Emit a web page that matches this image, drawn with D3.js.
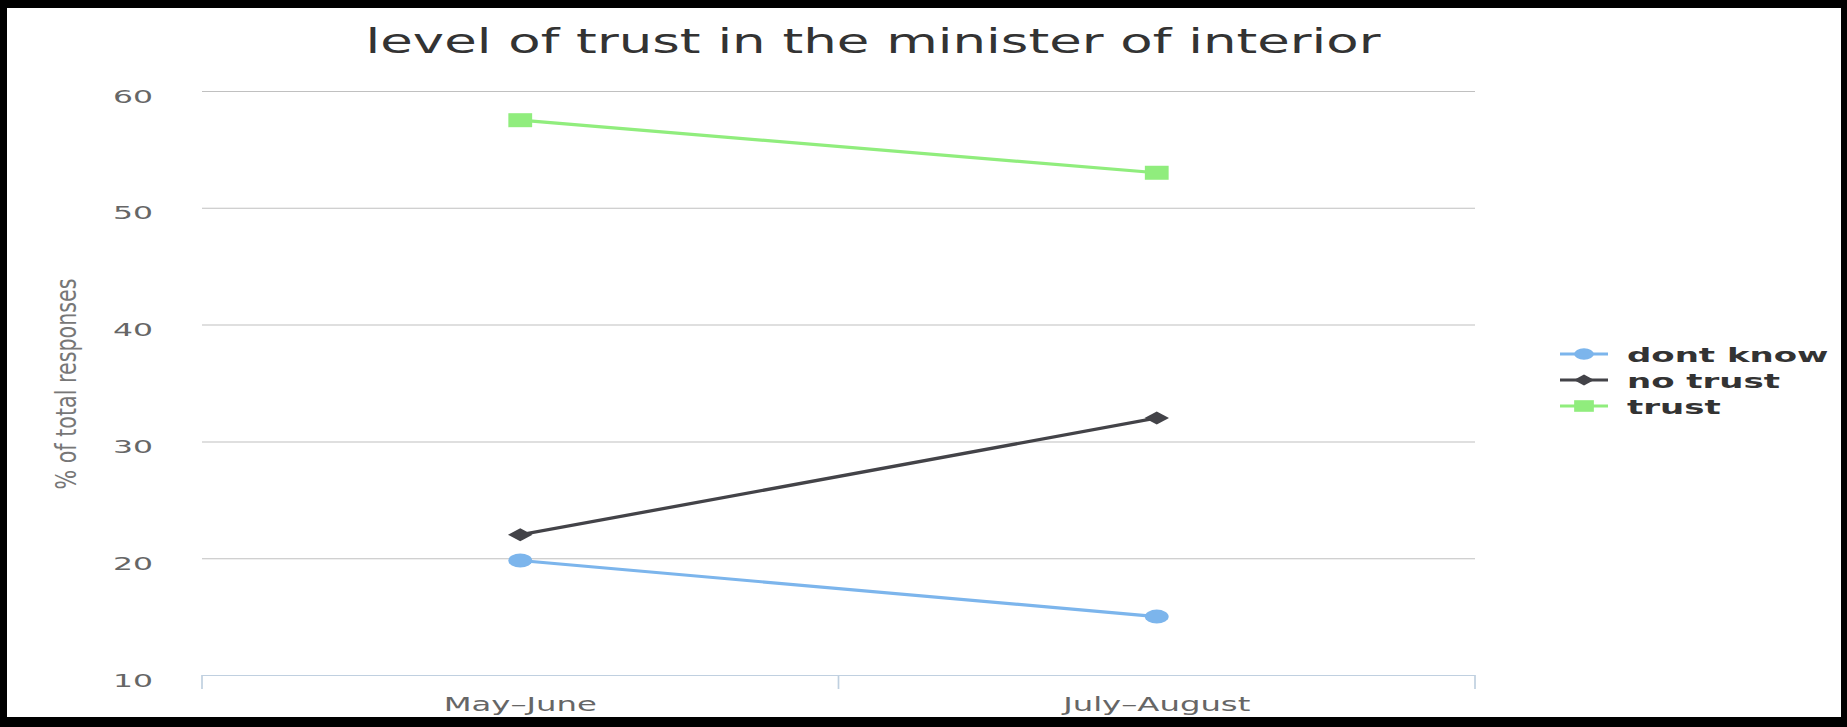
<!DOCTYPE html>
<html>
<head>
<meta charset="utf-8">
<script src="https://cdn.jsdelivr.net/npm/d3@7"></script>
<style>
  html, body { margin: 0; padding: 0; background: #000; }
  svg { display: block; }
</style>
</head>
<body>
<script>
// Survey periods and series values (% of total responses)
const categories = ["May–June", "July–August"];
const dontKnow = [19.8, 15];
const noTrust = [22, 32];
const trust = [57.5, 53];
const yTickValues = [10, 20, 30, 40, 50, 60];
const seriesNames = ["dont know", "no trust", "trust"];

const series = [
  { name: seriesNames[0], values: dontKnow, color: "#7cb5ec", symbol: "circle" },
  { name: seriesNames[1], values: noTrust, color: "#434348", symbol: "diamond" },
  { name: seriesNames[2], values: trust, color: "#90ed7d", symbol: "square" }
];

// The chart is laid out in a narrower coordinate space and stretched horizontally.
const W = 1847, H = 727, SX = 1.7;
const IW = W / SX;
const font = "'DejaVu Sans', Verdana, sans-serif";

const svg = d3.select("body").append("svg")
  .attr("width", W).attr("height", H)
  .attr("viewBox", `0 0 ${IW} ${H}`)
  .attr("preserveAspectRatio", "none");

// frame
svg.append("rect").attr("x", 0).attr("y", 0).attr("width", IW).attr("height", H).attr("fill", "#000");
svg.append("rect").attr("x", 7 / SX).attr("y", 8).attr("width", (1841 - 7) / SX).attr("height", 709)
  .attr("fill", "#fff");

const plotLeft = 202 / SX, plotRight = 1475 / SX;
const x = d3.scaleBand().domain(categories).range([plotLeft, plotRight]).padding(0);
const y = d3.scaleLinear().domain([10, 60]).range([675, 91]);
const cx = c => x(c) + x.bandwidth() / 2;

// title
svg.append("text")
  .attr("x", 873 / SX).attr("y", 53)
  .attr("text-anchor", "middle")
  .attr("font-family", font).attr("font-size", 33)
  .attr("fill", "#333")
  .attr("textLength", 1015 / SX).attr("lengthAdjust", "spacingAndGlyphs")
  .text("level of trust in the minister of interior");

// horizontal grid lines
svg.append("g").selectAll("line")
  .data(yTickValues.filter(v => v > 10))
  .join("line")
  .attr("x1", plotLeft).attr("x2", plotRight)
  .attr("y1", d => y(d) + 0.5).attr("y2", d => y(d) + 0.5)
  .attr("stroke", "#c0c0c0").attr("stroke-width", 1);

// y axis labels
const yAxis = svg.append("g")
  .attr("transform", `translate(${plotLeft},0)`)
  .call(d3.axisLeft(y).tickValues(yTickValues).tickSize(0).tickPadding(plotLeft - 153 / SX));
yAxis.select(".domain").remove();
yAxis.selectAll("text")
  .attr("font-family", font).attr("font-size", 18.5)
  .attr("fill", "#666").attr("dy", "0.6em");

// y axis title
svg.append("text")
  .attr("transform", `translate(${44.8},384) rotate(-90)`)
  .attr("text-anchor", "middle")
  .attr("font-family", font).attr("font-size", 17)
  .attr("fill", "#777")
  .attr("textLength", 211).attr("lengthAdjust", "spacingAndGlyphs")
  .text("% of total responses");

// x axis
const xAxis = svg.append("g")
  .attr("transform", `translate(0,${y(10)})`)
  .call(d3.axisBottom(x).tickSize(0).tickPadding(0));
xAxis.select(".domain").remove();
xAxis.selectAll("text")
  .attr("font-family", font).attr("font-size", 19)
  .attr("fill", "#666").attr("y", 36).attr("dy", 0);

svg.append("line")
  .attr("x1", plotLeft).attr("x2", plotRight)
  .attr("y1", y(10) + 0.5).attr("y2", y(10) + 0.5)
  .attr("stroke", "#c0d0e0").attr("stroke-width", 1.2);

// tick marks on category boundaries
const boundaries = categories.map(c => x(c)).concat([plotRight]);
svg.append("g").selectAll("line")
  .data(boundaries)
  .join("line")
  .attr("x1", d => d).attr("x2", d => d)
  .attr("y1", y(10)).attr("y2", y(10) + 14)
  .attr("stroke", "#c0d0e0").attr("stroke-width", 1);

// marker shapes
function markerPath(symbol, r) {
  if (symbol === "circle") {
    return `M${-r},0A${r},${r} 0 1,0 ${r},0A${r},${r} 0 1,0 ${-r},0Z`;
  }
  if (symbol === "square") {
    return `M${-r},${-r}H${r}V${r}H${-r}Z`;
  }
  const h = r * 0.93;
  return `M0,${-h}L${r * 1.03},0L0,${h}L${-r * 1.03},0Z`;
}

const line = d3.line().x(d => cx(d.c)).y(d => y(d.v));

const seriesG = svg.append("g").selectAll("g")
  .data(series)
  .join("g");

seriesG.append("path")
  .attr("d", s => line(s.values.map((v, i) => ({ c: categories[i], v }))))
  .attr("fill", "none")
  .attr("stroke", s => s.color)
  .attr("stroke-width", 3.2);

seriesG.selectAll("path.marker")
  .data(s => s.values.map((v, i) => ({ c: categories[i], v, s })))
  .join("path")
  .attr("class", "marker")
  .attr("transform", d => `translate(${cx(d.c)},${y(d.v)})`)
  .attr("d", d => markerPath(d.s.symbol, 7))
  .attr("fill", d => d.s.color);

// legend
const legendY = [354, 380, 406];
const legend = svg.append("g").selectAll("g")
  .data(series)
  .join("g")
  .attr("transform", (s, i) => `translate(0,${legendY[i]})`);

legend.append("line")
  .attr("x1", 1560 / SX).attr("x2", 1608 / SX)
  .attr("y1", 0).attr("y2", 0)
  .attr("stroke", s => s.color).attr("stroke-width", 3);

legend.append("path")
  .attr("transform", `translate(${1584 / SX},0)`)
  .attr("d", s => markerPath(s.symbol, 5.8))
  .attr("fill", s => s.color);

legend.append("text")
  .attr("x", 1627 / SX).attr("y", 7.5)
  .attr("font-family", font).attr("font-size", 20).attr("font-weight", "bold")
  .attr("fill", "#333")
  .text(s => s.name);
</script>
</body>
</html>
